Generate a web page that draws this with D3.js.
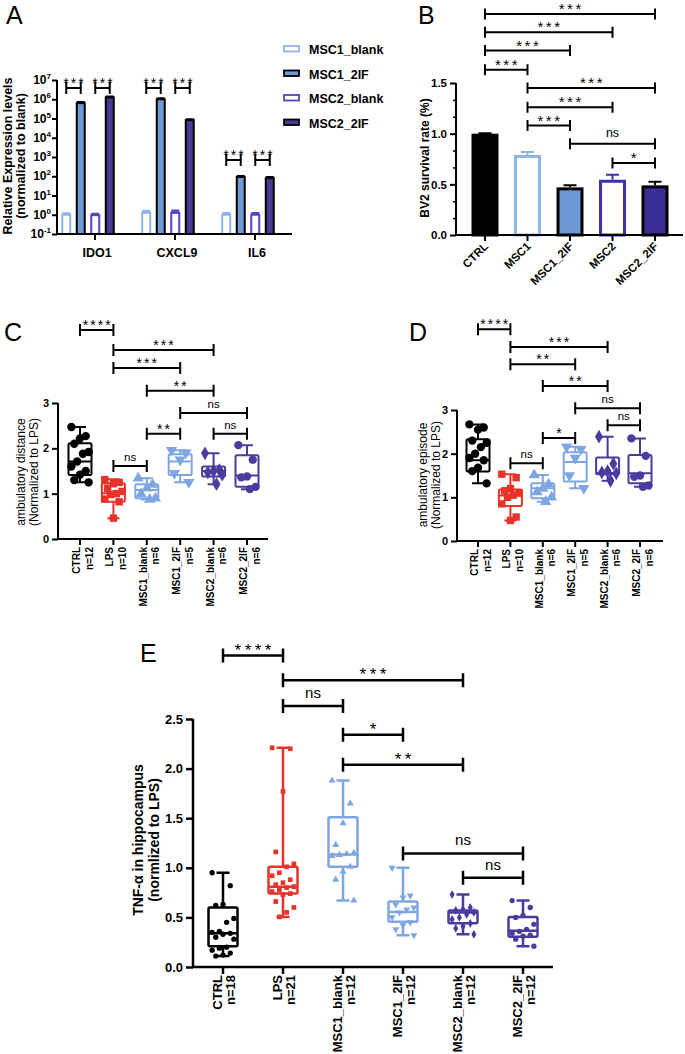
<!DOCTYPE html>
<html>
<head>
<meta charset="utf-8">
<script src="https://cdn.jsdelivr.net/npm/d3@7"></script>
<style>
  body { margin: 0; background: #fff; }
  svg  { display: block; font-family: "Liberation Sans", Arial, Helvetica, sans-serif; }
</style>
</head>
<body>
<svg id="fig" width="685" height="1054"></svg>
<script>
// ---------- data ----------
// A: qPCR, log scale
const genes       = ['IDO1', 'CXCL9', 'IL6'];
const exprSeries  = ['MSC1_blank', 'MSC1_2IF', 'MSC2_blank', 'MSC2_2IF'];
const exprValues  = [[1.0, 6.3e5, 0.95, 1.25e6], [1.25, 1.0e6, 1.25, 8.3e4], [1.0, 92, 1.0, 80]];
const exprUpper   = [[1.15, 6.9e5, 1.1, 1.35e6], [1.55, 1.08e6, 1.6, 8.9e4], [1.2, 100, 1.2, 88]];
const exprTicks   = [-1, 0, 1, 2, 3, 4, 5, 6, 7];
// [gene, series a, series b, label, level]
const exprSig     = [['IDO1', 0, 1, '***', 3.8e6], ['IDO1', 2, 3, '***', 3.8e6],
                     ['CXCL9', 0, 1, '***', 3.8e6], ['CXCL9', 2, 3, '***', 3.8e6],
                     ['IL6', 0, 1, '***', 690], ['IL6', 2, 3, '***', 690]];

// B: BV2 survival
const survGroups  = ['CTRL', 'MSC1', 'MSC1_2IF', 'MSC2', 'MSC2_2IF'];
const survMean    = [1.0, 0.79, 0.47, 0.545, 0.49];
const survUpper   = [1.005, 0.82, 0.49, 0.595, 0.525];
const survTicks   = [0, 0.5, 1.0, 1.5];
const survSig     = [[0, 4, '***', 2.18], [0, 3, '***', 2.0], [0, 2, '***', 1.82], [0, 1, '***', 1.63],
                     [1, 4, '***', 1.45], [1, 3, '***', 1.26], [1, 2, '***', 1.08],
                     [2, 4, 'ns', 0.9], [3, 4, '*', 0.71]];

// C, D, E: box plots (min, q1, median, q3, max) + individual animals
const mouseGroups = ['CTRL', 'LPS', 'MSC1_blank', 'MSC1_2IF', 'MSC2_blank', 'MSC2_2IF'];

const distN      = [12, 10, 6, 5, 6, 6];
const distBox    = [[1.25, 1.41, 1.71, 2.11, 2.47], [0.46, 0.82, 1.01, 1.23, 1.32], [0.87, 0.9, 1.08, 1.21, 1.34],
                    [1.25, 1.41, 1.71, 1.87, 1.96], [1.21, 1.38, 1.5, 1.6, 1.89], [1.1, 1.15, 1.4, 1.85, 2.07]];
const distPoints = [[2.47, 2.27, 2.22, 2.1, 1.92, 1.88, 1.71, 1.6, 1.5, 1.42, 1.3, 1.25],
                    [1.31, 1.25, 1.22, 1.12, 1.05, 1.0, 0.98, 0.88, 0.82, 0.46],
                    [1.34, 1.2, 1.12, 1.0, 0.9, 0.87],
                    [1.96, 1.9, 1.75, 1.45, 1.25],
                    [1.89, 1.52, 1.5, 1.47, 1.42, 1.21],
                    [2.07, 1.75, 1.38, 1.36, 1.15, 1.1]];
const distSig    = [[0, 1, '****', 4.61], [1, 4, '***', 4.17], [1, 3, '***', 3.77], [2, 4, '**', 3.27],
                    [3, 5, 'ns', 2.78], [2, 3, '**', 2.32], [4, 5, 'ns', 2.32], [1, 2, 'ns', 1.61]];

const epiN       = [12, 10, 6, 5, 6, 6];
const epiBox     = [[1.32, 1.59, 1.85, 2.33, 2.67], [0.47, 0.8, 1.04, 1.18, 1.53], [0.9, 0.98, 1.21, 1.32, 1.51],
                    [1.21, 1.36, 1.81, 2.03, 2.16], [1.38, 1.53, 1.56, 1.91, 2.39], [1.24, 1.32, 1.55, 1.97, 2.35]];
const epiPoints  = [[2.67, 2.6, 2.55, 2.3, 2.25, 2.15, 2.0, 1.9, 1.85, 1.68, 1.6, 1.32],
                    [1.53, 1.45, 1.2, 1.15, 1.1, 1.05, 1.0, 0.85, 0.55, 0.47],
                    [1.51, 1.3, 1.2, 1.12, 1.0, 0.9],
                    [2.16, 2.1, 1.9, 1.5, 1.21],
                    [2.39, 1.77, 1.6, 1.57, 1.55, 1.38],
                    [2.35, 1.95, 1.5, 1.47, 1.27, 1.24]];
const epiSig     = [[0, 1, '****', 4.85], [1, 4, '***', 4.44], [1, 3, '**', 4.05], [2, 4, '**', 3.55],
                    [3, 5, 'ns', 3.04], [4, 5, 'ns', 2.65], [2, 3, '*', 2.36], [1, 2, 'ns', 1.78]];

const tnfN       = [18, 21, 12, 12, 12, 12];
const tnfBox     = [[0.11, 0.21, 0.34, 0.6, 0.95], [0.505, 0.74, 0.81, 1.01, 2.21], [0.67, 1.01, 1.135, 1.51, 1.88],
                    [0.32, 0.455, 0.555, 0.66, 1.0], [0.33, 0.44, 0.55, 0.57, 0.73], [0.21, 0.305, 0.365, 0.505, 0.67]];
const tnfPoints  = [[0.95, 0.82, 0.63, 0.62, 0.49, 0.45, 0.36, 0.35, 0.34, 0.33, 0.3, 0.28, 0.2, 0.19, 0.17, 0.14, 0.12, 0.11],
                    [2.21, 2.2, 1.77, 1.16, 1.04, 1.01, 0.95, 0.92, 0.88, 0.85, 0.83, 0.81, 0.8, 0.78, 0.76, 0.74, 0.73, 0.66, 0.6, 0.55, 0.505],
                    [1.88, 1.65, 1.45, 1.23, 1.15, 1.14, 1.13, 1.12, 1.01, 0.96, 0.88, 0.67],
                    [1.0, 0.72, 0.7, 0.63, 0.6, 0.58, 0.55, 0.5, 0.45, 0.42, 0.38, 0.32],
                    [0.73, 0.6, 0.58, 0.57, 0.55, 0.53, 0.5, 0.48, 0.44, 0.41, 0.39, 0.33],
                    [0.67, 0.6, 0.52, 0.5, 0.43, 0.38, 0.36, 0.34, 0.32, 0.31, 0.28, 0.21]];
const tnfTicks   = [0, 0.5, 1.0, 1.5, 2.0, 2.5];
const tnfSig     = [[0, 1, '****', 3.14], [1, 4, '***', 2.89], [1, 2, 'ns', 2.63], [2, 3, '*', 2.34],
                    [2, 4, '**', 2.04], [3, 5, 'ns', 1.145], [4, 5, 'ns', 0.90]];

// ---------- styles ----------
const LIGHT = '#7ea7e1', PURPLE = '#4c3a9e', RED = '#e8332a';
const boxColors  = ['#000', RED, LIGHT, LIGHT, PURPLE, PURPLE];
const boxSymbols = ['circle', 'square', 'up', 'down', 'diamond', 'circle'];

const svg = d3.select('#fig');

function panelLetter(x, y, t) {
  svg.append('text').attr('x', x).attr('y', y).attr('font-size', 25).text(t);
}

function bracket(g, x1, x2, y, label, o) {
  g.append('path')
    .attr('d', `M${x1},${y - o.tick}V${y + o.tick}M${x1},${y}H${x2}M${x2},${y - o.tick}V${y + o.tick}`)
    .attr('fill', 'none').attr('stroke', '#000').attr('stroke-width', o.sw);
  const star = label.includes('*');
  g.append('text')
    .attr('x', (x1 + x2) / 2 + (star ? o.starLs / 2 : 0))
    .attr('y', star ? y + o.starDy : y - o.nsDy)
    .attr('text-anchor', 'middle')
    .attr('font-size', star ? o.starSize : o.nsSize)
    .attr('letter-spacing', star ? o.starLs : 0)
    .text(label);
}

function rotLabel(g, x, cy, lines, size, weight, lh) {
  const t = g.append('text')
    .attr('transform', `translate(${x},${cy}) rotate(-90)`)
    .attr('text-anchor', 'middle').attr('font-size', size).attr('font-weight', weight);
  lines.forEach((l, i) => t.append('tspan').attr('x', 0).attr('y', i * lh).text(l));
}

function symbolPath(kind, size) {
  const type = { circle: d3.symbolCircle, square: d3.symbolSquare, up: d3.symbolTriangle,
                 down: d3.symbolTriangle, diamond: d3.symbolDiamond }[kind];
  return d3.symbol().type(type).size(size)();
}

// ---------- A ----------
panelLetter(6, 24, 'A');
{
  const g  = svg.append('g');
  const y  = d3.scaleLog().domain([0.1, 1e7]).range([234, 80]);
  const x0 = d3.scaleBand().domain(genes).range([48, 288]);
  const x1 = d3.scaleBand().domain(exprSeries).range([-25.75, 25.75]).paddingInner(0.45);
  const style = {
    MSC1_blank: { fill: '#fff', stroke: '#8db4ea', err: '#8db4ea' },
    MSC1_2IF:   { fill: '#6d99d6', stroke: '#000', err: '#000' },
    MSC2_blank: { fill: '#fff', stroke: '#5b41c6', err: '#5b41c6' },
    MSC2_2IF:   { fill: '#4a3990', stroke: '#000', err: '#000' }
  };
  const bw = x1.bandwidth();
  genes.forEach((gene, gi) => {
    const c = x0(gene) + x0.bandwidth() / 2;
    exprSeries.forEach((s, si) => {
      const bx = c + x1(s), v = exprValues[gi][si], u = exprUpper[gi][si];
      const st = style[s];
      g.append('path')
        .attr('d', `M${bx + bw / 2},${y(v)}V${y(u)}M${bx},${y(u)}H${bx + bw}`)
        .attr('stroke', st.err).attr('stroke-width', 2.5).attr('fill', 'none');
      g.append('rect').attr('x', bx).attr('y', y(v)).attr('width', bw).attr('height', y(0.1) - y(v))
        .attr('fill', st.fill).attr('stroke', st.stroke).attr('stroke-width', 2);
    });
  });
  // axes
  const ya = g.append('g').attr('transform', 'translate(57,0)')
    .call(d3.axisLeft(y).tickValues(exprTicks.map(e => Math.pow(10, e))).tickSize(5).tickFormat(''));
  ya.selectAll('path,line').attr('stroke', '#000').attr('stroke-width', 2);
  ya.select('.domain').attr('d', `M0,${y(1e7)}V${y(0.1)}`);
  exprTicks.forEach(e => {
    const t = g.append('text').attr('x', 51).attr('y', y(Math.pow(10, e)) + 4)
      .attr('text-anchor', 'end').attr('font-size', 12).attr('font-weight', 'bold');
    t.append('tspan').text('10');
    t.append('tspan').attr('font-size', 8).attr('dy', -5).text(e);
  });
  g.append('line').attr('x1', 56).attr('x2', 292).attr('y1', y(0.1)).attr('y2', y(0.1))
    .attr('stroke', '#000').attr('stroke-width', 2);
  genes.forEach(gene => {
    const c = x0(gene) + x0.bandwidth() / 2 + 7;
    g.append('line').attr('x1', c).attr('x2', c).attr('y1', y(0.1)).attr('y2', y(0.1) + 6)
      .attr('stroke', '#000').attr('stroke-width', 2);
    g.append('text').attr('x', c + 2).attr('y', 257).attr('text-anchor', 'middle')
      .attr('font-size', 12.5).attr('font-weight', 'bold').text(gene);
  });
  rotLabel(g, 12, 156, ['Relative Expression levels', '(normalized to blank)'], 12.5, 'bold', 12.5);
  const so = { tick: 6, sw: 2, starDy: 0, nsDy: 6, starSize: 14, nsSize: 12, starLs: 2 };
  exprSig.forEach(([gene, a, b, lab, lvl]) => {
    const c = x0(gene) + x0.bandwidth() / 2;
    bracket(g, c + x1(exprSeries[a]) + bw / 2, c + x1(exprSeries[b]) + bw / 2, y(lvl), lab, so);
  });
  // legend
  exprSeries.forEach((s, i) => {
    const ly = 46 + i * 24.5;
    g.append('rect').attr('x', 284).attr('y', ly).attr('width', 15).attr('height', 5.5)
      .attr('fill', style[s].fill).attr('stroke', style[s].stroke).attr('stroke-width', 1.8);
    g.append('text').attr('x', 309).attr('y', ly + 8).attr('font-size', 12.5).attr('font-weight', 'bold').text(s);
  });
}

// ---------- B ----------
panelLetter(418, 24, 'B');
{
  const g = svg.append('g');
  const y = d3.scaleLinear().domain([0, 1.5]).range([235, 83]);
  const x = d3.scaleBand().domain(survGroups).range([463.75, 676.25]).paddingInner(0.365).paddingOuter(0.1825);
  const style = [
    { fill: '#000', stroke: '#000', err: '#000' },
    { fill: '#fff', stroke: '#8db3ea', err: '#8db3ea' },
    { fill: '#6e98d5', stroke: '#000', err: '#000' },
    { fill: '#fff', stroke: '#3e2fb5', err: '#3e2fb5' },
    { fill: '#3b2d96', stroke: '#000', err: '#000' }
  ];
  survGroups.forEach((s, i) => {
    const bx = x(s), bw = x.bandwidth(), c = bx + bw / 2;
    g.append('path').attr('d', `M${c},${y(survMean[i])}V${y(survUpper[i])}M${c - 6.5},${y(survUpper[i])}H${c + 6.5}`)
      .attr('stroke', style[i].err).attr('stroke-width', 2).attr('fill', 'none');
    g.append('rect').attr('x', bx + 1.5).attr('y', y(survMean[i]) + 1.5).attr('width', bw - 3)
      .attr('height', y(0) - y(survMean[i]) - 1.5)
      .attr('fill', style[i].fill).attr('stroke', style[i].stroke).attr('stroke-width', 3);
  });
  const ya = g.append('g').attr('transform', 'translate(456,0)')
    .call(d3.axisLeft(y).tickValues(survTicks).tickSize(6).tickFormat(d3.format('.1f')));
  ya.selectAll('path,line').attr('stroke', '#000').attr('stroke-width', 2);
  ya.select('.domain').attr('d', `M0,${y(1.5)}V${y(0)}`);
  ya.selectAll('text').attr('font-size', 11.5).attr('font-weight', 'bold').attr('font-family', null).attr('fill', '#000');
  g.append('g').attr('transform', 'translate(456,0)')
    .call(d3.axisLeft(y).tickValues(d3.range(1, 9).filter(k => k % 3 !== 0).map(k => k / 6)).tickSize(3).tickFormat(''))
    .call(a => a.select('.domain').remove())
    .selectAll('line').attr('stroke', '#000').attr('stroke-width', 1.5);
  g.append('line').attr('x1', 455).attr('x2', 683).attr('y1', y(0)).attr('y2', y(0))
    .attr('stroke', '#000').attr('stroke-width', 2);
  survGroups.forEach(s => {
    const c = x(s) + x.bandwidth() / 2;
    g.append('line').attr('x1', c).attr('x2', c).attr('y1', y(0)).attr('y2', y(0) + 6)
      .attr('stroke', '#000').attr('stroke-width', 2);
    g.append('text').attr('transform', `translate(${c + 4},${y(0) + 12}) rotate(-45)`)
      .attr('text-anchor', 'end').attr('font-size', 11.5).attr('font-weight', 'bold').text(s);
  });
  rotLabel(g, 429, 158, ['BV2 survival rate (%)'], 12, 'bold', 12);
  const so = { tick: 5.5, sw: 2, starDy: 0, nsDy: 7, starSize: 15, nsSize: 12.5, starLs: 2.5 };
  survSig.forEach(([a, b, lab, lvl]) =>
    bracket(g, x(survGroups[a]) + x.bandwidth() / 2, x(survGroups[b]) + x.bandwidth() / 2, y(lvl), lab, so));
}

// ---------- box plot panels ----------
function boxPanel(cfg) {
  const g = svg.append('g');
  const { y, x, stats, points, ns, sig } = cfg;
  const xc = s => x(s) + x.bandwidth() / 2;
  mouseGroups.forEach((s, i) => {
    const c = xc(s), col = boxColors[i];
    const [mn, q1, md, q3, mx] = stats[i];
    const hb = cfg.boxW / 2, hc = cfg.capW / 2;
    g.append('path')
      .attr('d', `M${c},${y(q3)}V${y(mx)}M${c},${y(q1)}V${y(mn)}` +
                 `M${c - hc},${y(mx)}H${c + hc}M${c - hc},${y(mn)}H${c + hc}` +
                 `M${c - hb},${y(md)}H${c + hb}`)
      .attr('fill', 'none').attr('stroke', col).attr('stroke-width', cfg.sw);
    g.append('rect').attr('x', c - hb).attr('y', y(q3)).attr('width', cfg.boxW).attr('height', y(q1) - y(q3))
      .attr('rx', 1.5).attr('fill', 'none').attr('stroke', col).attr('stroke-width', cfg.sw);
    const pts = points[i];
    g.selectAll(null).data(pts).join('path')
      .attr('d', symbolPath(boxSymbols[i], cfg.symSize))
      .attr('transform', (v, k) => {
        const off = ((k * 5) % 7 - 3) * cfg.boxW / 8;
        return `translate(${c + off},${y(v)})` + (boxSymbols[i] === 'down' ? ' rotate(180)' : '');
      })
      .attr('fill', col);
  });
  // axes
  const ya = g.append('g').attr('transform', `translate(${cfg.axisX},0)`)
    .call(d3.axisLeft(y).tickValues(cfg.ticks).tickSize(cfg.tickLen).tickFormat(cfg.fmt));
  ya.selectAll('path,line').attr('stroke', '#000').attr('stroke-width', cfg.axisW);
  ya.select('.domain').attr('d', `M0,${y(cfg.ticks[cfg.ticks.length - 1])}V${y(0)}`);
  ya.selectAll('text').attr('font-size', cfg.tickFont).attr('font-weight', 'bold')
    .attr('font-family', null).attr('fill', '#000').attr('x', -cfg.tickLen - 3);
  g.append('line').attr('x1', cfg.axisX - 1).attr('x2', cfg.axisEnd).attr('y1', y(0)).attr('y2', y(0))
    .attr('stroke', '#000').attr('stroke-width', cfg.axisW);
  mouseGroups.forEach((s, i) => {
    const c = xc(s);
    g.append('line').attr('x1', c).attr('x2', c).attr('y1', y(0)).attr('y2', y(0) + cfg.tickLen)
      .attr('stroke', '#000').attr('stroke-width', cfg.axisW);
    const t = g.append('text')
      .attr('transform', `translate(${c + cfg.labDx},${y(0) + cfg.labGap}) rotate(-90)`)
      .attr('text-anchor', 'end').attr('font-size', cfg.labFont).attr('font-weight', 'bold');
    t.append('tspan').attr('x', 0).attr('y', 0).text(s);
    t.append('tspan').attr('x', 0).attr('y', cfg.labLh).text('n=' + ns[i]);
  });
  rotLabel(g, cfg.ylabX, cfg.ylabY, cfg.ylab, cfg.ylabFont, cfg.ylabWeight, cfg.ylabLh);
  sig.forEach(([a, b, lab, lvl]) => bracket(g, xc(mouseGroups[a]), xc(mouseGroups[b]), y(lvl), lab, cfg.sigOpt));
}

const smallSig = { tick: 6, sw: 2, starDy: 0, nsDy: 5, starSize: 14, nsSize: 11.5, starLs: 2 };

panelLetter(4, 341, 'C');
boxPanel({
  y: d3.scaleLinear().domain([0, 3]).range([539, 403]),
  x: d3.scaleBand().domain(mouseGroups).range([63.3, 263.7]),
  stats: distBox, points: distPoints, ns: distN, sig: distSig,
  boxW: 23, capW: 12, sw: 2, symSize: 55,
  axisX: 58, axisEnd: 268, axisW: 2, ticks: [0, 1, 2, 3], tickLen: 6, fmt: d3.format('d'), tickFont: 11,
  labDx: 0, labGap: 8, labFont: 10, labLh: 12.5,
  ylab: ['ambulatory distance', '(Normalized to LPS)'], ylabX: 25, ylabY: 472, ylabFont: 12, ylabWeight: 'normal', ylabLh: 12.5,
  sigOpt: smallSig
});

panelLetter(409, 341, 'D');
boxPanel({
  y: d3.scaleLinear().domain([0, 3]).range([541, 410]),
  x: d3.scaleBand().domain(mouseGroups).range([461.8, 656.2]),
  stats: epiBox, points: epiPoints, ns: epiN, sig: epiSig,
  boxW: 23, capW: 12, sw: 2, symSize: 55,
  axisX: 457, axisEnd: 663, axisW: 2, ticks: [0, 1, 2, 3], tickLen: 6, fmt: d3.format('d'), tickFont: 11,
  labDx: 0, labGap: 8, labFont: 10, labLh: 12.5,
  ylab: ['ambulatory episode', '(Normalized to LPS)'], ylabX: 427, ylabY: 475, ylabFont: 12, ylabWeight: 'normal', ylabLh: 12.5,
  sigOpt: smallSig
});

panelLetter(140, 662, 'E');
boxPanel({
  y: d3.scaleLinear().domain([0, 2.5]).range([967, 719]),
  x: d3.scaleBand().domain(mouseGroups).range([193, 553]),
  stats: tnfBox, points: tnfPoints, ns: tnfN, sig: tnfSig,
  boxW: 29, capW: 13, sw: 2.5, symSize: 22,
  axisX: 193, axisEnd: 553, axisW: 2.5, ticks: tnfTicks, tickLen: 7, fmt: d3.format('.1f'), tickFont: 13,
  labDx: -1, labGap: 8, labFont: 13, labLh: 13,
  ylab: ['TNF-α in hippocampus', '(normlized to LPS)'], ylabX: 143, ylabY: 840, ylabFont: 14, ylabWeight: 'bold', ylabLh: 15.5,
  sigOpt: { tick: 7, sw: 2.5, starDy: 0, nsDy: 8, starSize: 17, nsSize: 15, starLs: 3.5 }
});
</script>
</body>
</html>
